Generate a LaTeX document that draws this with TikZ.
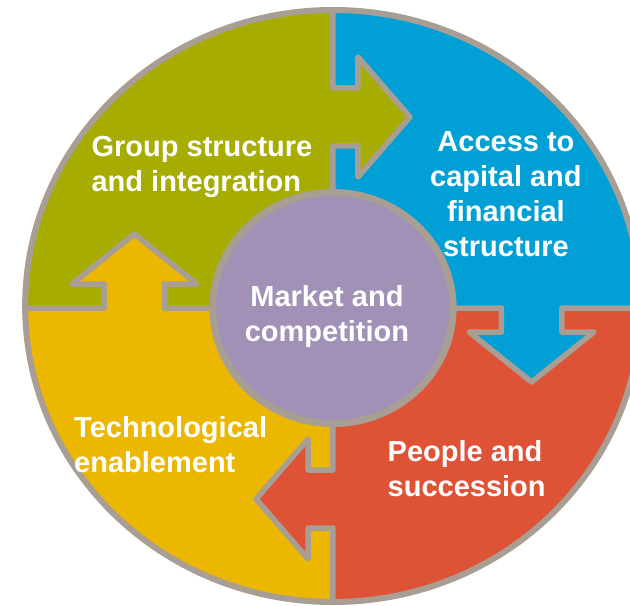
\documentclass[tikz,border=0pt]{standalone}
\usepackage{fontspec}
\setmainfont{Liberation Sans}
\definecolor{grpgreen}{HTML}{A6AD00}
\definecolor{capblue}{HTML}{00A0D7}
\definecolor{pplred}{HTML}{DE5336}
\definecolor{techyellow}{HTML}{ECB700}
\definecolor{mktviolet}{HTML}{A191B6}
\definecolor{rimgray}{HTML}{A89E94}
\tikzset{
  rim/.style={draw=rimgray,line width=6pt},
  divider/.style={draw=rimgray,line width=5.5pt,line join=round},
  heading/.style={text=white,inner sep=0pt,font=\fontsize{29}{35}\selectfont\bfseries}
}
\begin{document}
\begin{tikzpicture}[x=1pt,y=1pt,xscale=1.04]
\useasboundingbox (-320.19,-297) rectangle (285.58,308);
\clip (-320.19,-297) rectangle (285.58,308);
% four quarters
\begin{scope}
\clip (0,2) circle (296);
\fill[grpgreen] (0,0) rectangle (-310,310);
\fill[capblue] (0,0) rectangle (310,310);
\fill[pplred] (0,0) rectangle (310,-310);
\fill[techyellow] (0,0) rectangle (-310,-310);
\end{scope}
% arrow tabs
\fill[grpgreen] (0,220) -- (24,220) -- (24,251) -- (74,191) -- (24,131) -- (24,162) -- (0,162) -- cycle;
\fill[capblue] (220,0) -- (220,-24) -- (251,-24) -- (191,-74) -- (131,-24) -- (162,-24) -- (162,0) -- cycle;
\fill[pplred] (0,-220) -- (-24,-220) -- (-24,-251) -- (-74,-191) -- (-24,-131) -- (-24,-162) -- (0,-162) -- cycle;
\fill[techyellow] (-220,0) -- (-220,24) -- (-251,24) -- (-191,74) -- (-131,24) -- (-162,24) -- (-162,0) -- cycle;
% dividers
\draw[divider] (0,296) -- (0,220) -- (24,220) -- (24,251) -- (74,191) -- (24,131) -- (24,162) -- (0,162) -- (0,115);
\draw[divider] (296,0) -- (220,0) -- (220,-24) -- (251,-24) -- (191,-74) -- (131,-24) -- (162,-24) -- (162,0) -- (115,0);
\draw[divider] (0,-296) -- (0,-220) -- (-24,-220) -- (-24,-251) -- (-74,-191) -- (-24,-131) -- (-24,-162) -- (0,-162) -- (0,-115);
\draw[divider] (-296,0) -- (-220,0) -- (-220,24) -- (-251,24) -- (-191,74) -- (-131,24) -- (-162,24) -- (-162,0) -- (-115,0);
\draw[rim] (0,2) circle (296);
\draw[rim,line width=7pt,fill=mktviolet] (0,0) circle (115.5);

\node[heading,align=left,anchor=west] (group) at (-232.3,141.5) {Group structure\\and integration};
\node[heading,align=center] (capital) at (166.3,113.8) {Access to\\capital and\\financial\\structure};
\node[heading,align=left,anchor=west] (people) at (52.4,-160.6) {People and\\succession};
\node[heading,align=left,anchor=west] (tech) at (-249,-137) {Technological\\enablement};
\node[heading,align=center] (market) at (-5.8,-8.8) {Market and\\competition};
\end{tikzpicture}
\end{document}
